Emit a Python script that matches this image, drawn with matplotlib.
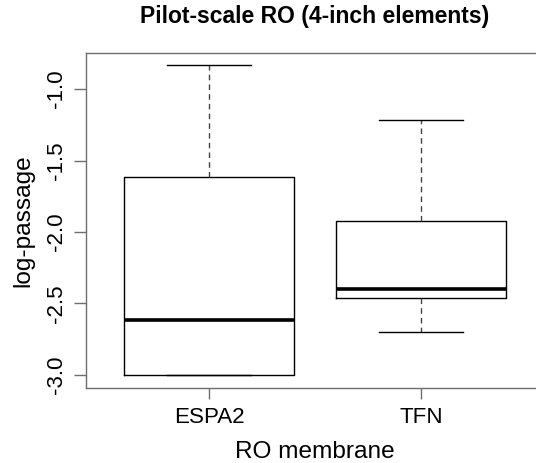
import numpy as np
import matplotlib
matplotlib.use("Agg")
import matplotlib.pyplot as plt

plt.rcParams['font.family'] = ['Liberation Sans', 'DejaVu Sans']

# boxplot summary values
membranes = ["ESPA2", "TFN"]
whis_lo = [-3.00, -2.70]
q1 = [-3.00, -2.46]
medians = [-2.615, -2.40]
q3 = [-1.615, -1.925]
whis_hi = [-0.832, -1.217]
y_ticks = [-3.0, -2.5, -2.0, -1.5, -1.0]

stats = []
for i in range(len(membranes)):
    stats.append(dict(label=membranes[i], whislo=whis_lo[i], q1=q1[i],
                      med=medians[i], q3=q3[i], whishi=whis_hi[i], fliers=[]))

fig = plt.figure(figsize=(5.36, 4.63), dpi=100)
ax = fig.add_axes([86 / 536, 75.3 / 463, 458 / 536, 335 / 463])

frame_col = "#6e6e6e"
ax.bxp(stats, positions=[1, 2], widths=0.8, showfliers=False,
       boxprops=dict(color="black", linewidth=1.0),
       medianprops=dict(color="black", linewidth=2.6, solid_capstyle="butt"),
       whiskerprops=dict(color="#444444", linewidth=1.0, linestyle=(0, (4, 3))),
       capprops=dict(color="black", linewidth=1.0),
       capwidths=0.4)

ax.set_xlim(0.42, 2.58)
ax.set_ylim(-3.089, -0.746)
ax.set_yticks(y_ticks)
ax.set_yticklabels([f"{v:.1f}" for v in y_ticks], rotation=90, va="center",
                   fontsize=16.1)
ax.set_xticks([1, 2])
ax.set_xticklabels(membranes, fontsize=16.1)
ax.tick_params(axis="y", length=9, width=1, color=frame_col, pad=5)
ax.tick_params(axis="x", length=8, width=1, color=frame_col, pad=6)
for s in ax.spines.values():
    s.set_color(frame_col)
    s.set_linewidth(1.0)

ax.set_xlabel("RO membrane", fontsize=17.6, labelpad=9)
ax.set_ylabel("log-passage", fontsize=17.6, labelpad=8)
fig.text(315 / 536, 1 - 17 / 463, "Pilot-scale RO (4-inch elements)",
         ha="center", va="center", fontsize=16.5, fontweight="bold")

fig.savefig("out.png", dpi=100)
